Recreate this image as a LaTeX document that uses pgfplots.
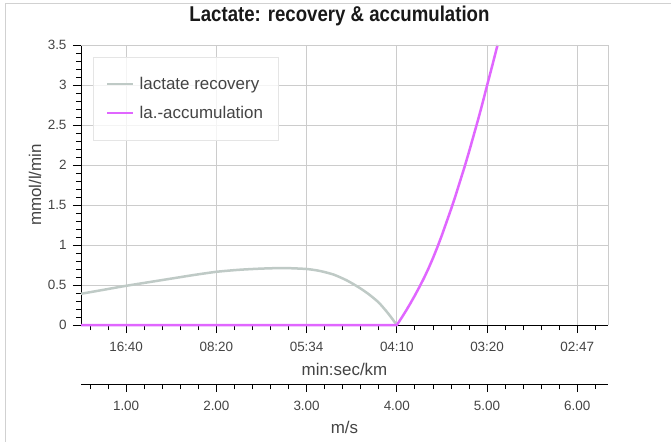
\documentclass[border=0pt]{standalone}
\usepackage{pgfplots}
\pgfplotsset{compat=1.18}
\usepackage{fontspec}
\setmainfont{Liberation Sans}
\definecolor{recov}{HTML}{BFCAC6}
\definecolor{accum}{HTML}{E066FF}
\definecolor{gridc}{HTML}{CCCCCC}
\definecolor{labc}{HTML}{444444}

\pgfplotsset{
  lacaxis/.style={
    scale only axis, width=527bp,
    xmin=0.5, xmax=6.34,
    axis line style={-, black, line width=0.8bp},
    tick align=outside, tick style={black, line width=0.8bp},
    major tick length=8bp, minor tick length=5bp,
    xtick={1,2,3,4,5,6},
    minor xtick={0.6,0.8,...,6.3},
    ticklabel style={font=\fontsize{13.5}{15}\selectfont, text=labc},
    xticklabel style={yshift=-6bp},
    label style={font=\fontsize{17}{19}\selectfont, text=labc},
  }
}

\begin{document}
\begin{tikzpicture}
\path[use as bounding box] (0bp,0bp) rectangle (671bp,-442bp);
\draw[color=black!18, line width=1bp] (5bp,-442bp) -- (5bp,-3bp) -- (671bp,-3bp);

\begin{axis}[
  lacaxis,
  at={(81bp,-325bp)}, anchor=south west,
  height=280bp,
  ymin=0, ymax=3.5,
  axis lines*=left,
  xticklabels={16:40,08:20,05:34,04:10,03:20,02:47},
  ytick={0,0.5,1,1.5,2,2.5,3,3.5},
  yticklabels={0,0.5,1,1.5,2,2.5,3,3.5},
  yticklabel style={xshift=-3bp},
  minor ytick={0.1,0.2,0.3,0.4,0.6,0.7,0.8,0.9,1.1,1.2,1.3,1.4,1.6,1.7,1.8,1.9,2.1,2.2,2.3,2.4,2.6,2.7,2.8,2.9,3.1,3.2,3.3,3.4},
  grid=major, major grid style={gridc, line width=0.8bp},
  xlabel={min:sec/km},
  xlabel style={at={(axis description cs:0.5,-0.159)}, anchor=center},
  ylabel={mmol/l/min},
  ylabel style={at={(axis description cs:-0.0873,0.5)}, anchor=center},
  every axis title shift=0pt,
  title={\scalebox{0.87}[1]{\bfseries Lactate: recovery \& accumulation}},
  title style={at={(axis description cs:0.4905,1.1036)}, anchor=center,
    font=\fontsize{21.5}{24}\selectfont, text=black!90},
  legend style={at={(axis description cs:0.0228,0.957)}, anchor=north west,
    draw=black!10, fill=white, fill opacity=0.8, text opacity=1,
    font=\fontsize{17}{19}\selectfont, text=labc,
    inner xsep=13bp, inner ysep=18bp, row sep=11bp,
    /tikz/every odd column/.append style={column sep=3bp}},
  legend cell align=left,
  legend image code/.code={\draw[#1, line width=2.5bp] (0bp,0bp) -- (26bp,0bp);},
  clip=false,
]
\addplot[recov, line width=2.5bp, no marks, smooth, tension=0.4] coordinates {
  (0.5,0.39) (0.75,0.44) (1.0,0.49) (1.25,0.535) (1.5,0.58) (1.75,0.625)
  (2.0,0.665) (2.25,0.69) (2.5,0.705) (2.75,0.712) (3.0,0.70) (3.15,0.675)
  (3.3,0.63) (3.45,0.555) (3.6,0.455) (3.7,0.375) (3.8,0.28) (3.9,0.15) (4.0,0.0)
};
\addlegendentry{lactate recovery}
\addplot[accum, line width=2.5bp, no marks] coordinates {
  (0.5,0) (4.0,0) (4.05,0.085) (4.1,0.175) (4.15,0.27) (4.2,0.37) (4.25,0.475)
  (4.3,0.585) (4.35,0.705) (4.4,0.835) (4.45,0.975) (4.5,1.125) (4.55,1.285)
  (4.6,1.445) (4.65,1.615) (4.7,1.795) (4.75,1.975) (4.8,2.165) (4.85,2.365)
  (4.9,2.565) (4.95,2.775) (5.0,2.995) (5.05,3.21) (5.1,3.43) (5.116,3.5)
};
\addlegendentry{la.-accumulation}
\draw[gridc, line width=0.8bp] (rel axis cs:0,1) -- (rel axis cs:1,1) -- (rel axis cs:1,0);
\end{axis}

\begin{axis}[
  lacaxis,
  at={(81bp,-384bp)}, anchor=south west,
  height=10bp, ymin=0, ymax=1,
  axis x line*=bottom, axis y line=none, ytick=\empty,
  xticklabels={1.00,2.00,3.00,4.00,5.00,6.00},
  xlabel={m/s},
  xlabel style={at={(axis description cs:0.5,-4.3)}, anchor=center},
]
\end{axis}
\end{tikzpicture}
\end{document}
